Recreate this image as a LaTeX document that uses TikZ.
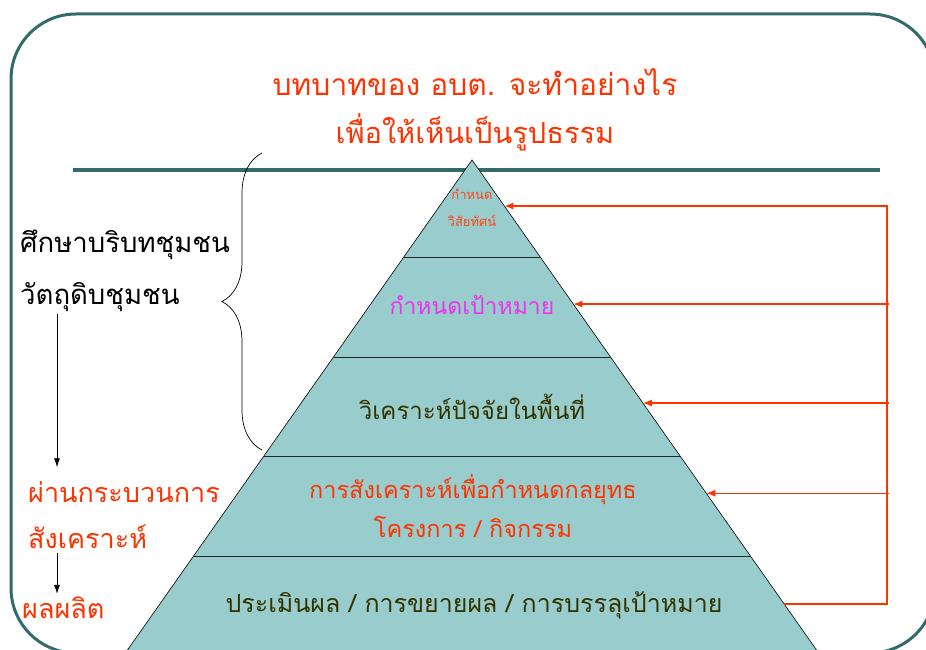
\documentclass[tikz,border=0pt]{standalone}
\usepackage{fontspec}
\newfontfamily\thai[Script=Thai]{Loma}
\usetikzlibrary{arrows.meta,decorations.pathreplacing,calc,positioning}
\definecolor{frameteal}{HTML}{336B6B}
\definecolor{titlered}{HTML}{FF3300}
\definecolor{pyrfill}{HTML}{99CCCC}
\definecolor{olivetext}{HTML}{333300}
\definecolor{goalpink}{HTML}{EE33EE}

\begin{document}
\begin{tikzpicture}[x=1pt, y=-1pt,
        every node/.style={font=\thai, inner sep=0pt},
        bigtext/.style={font=\thai\fontsize{27.5}{32}\selectfont},
        bandtext/.style={font=\thai\fontsize{23}{39}\selectfont, align=center},
        feedback/.style={titlered, line width=1.2pt},
        feedarrow/.style={feedback, -{Latex[length=9pt,width=7pt]}},
        flowarrow/.style={line width=0.8pt, -{Latex[length=9pt,width=6pt]}}]
        \useasboundingbox (0,0) rectangle (926,650);
        \clip (0,0) rectangle (926,650);
        \draw[frameteal, line width=3pt, rounded corners=65pt] (11,14) rectangle (935,653);

        % title
        \node[bigtext, titlered, font=\thai\fontsize{30}{32}\selectfont] (title1) at (475,82) {บทบาทของ อบต. จะทำอย่างไร};
        \node[bigtext, titlered, font=\thai\fontsize{29}{32}\selectfont] (title2) at (475,132) {เพื่อให้เห็นเป็นรูปธรรม};
        \draw[frameteal, line width=4pt] (73,170) -- (880,170);

        % pyramid
        \coordinate (apex) at (472,160);
        \coordinate (bl) at (127.5,650);
        \coordinate (br) at (816.5,650);
        \fill[pyrfill] (apex) -- ($(apex)!1.05!(bl)$) -- ($(apex)!1.05!(br)$) -- cycle;
        \draw[line width=0.6pt] ($(apex)!1.05!(bl)$) -- (apex) -- ($(apex)!1.05!(br)$);
        \foreach \t in {0.2, 0.403, 0.606, 0.81}
                \draw[line width=1pt, black!85] ($(apex)!\t!(bl)$) -- ($(apex)!\t!(br)$);

        \node[font=\thai\fontsize{13}{27}\selectfont, align=center, titlered!90!white] (vision) at (472,208) {กำหนด\\วิสัยทัศน์};
        \node[bandtext, goalpink] (goal) at (472,305) {กำหนดเป้าหมาย};
        \node[bandtext, olivetext, font=\thai\fontsize{24}{40}\selectfont] (factor) at (472,407) {วิเคราะห์ปัจจัยในพื้นที่};
        \node[bandtext, titlered, font=\thai\fontsize{23.5}{39}\selectfont] (strategy) at (473,506) {การสังเคราะห์เพื่อกำหนดกลยุทธ\\โครงการ / กิจกรรม};
        \node[bandtext, olivetext, font=\thai\fontsize{25}{40}\selectfont] (evaluate) at (474,605) {ประเมินผล / การขยายผล / การบรรลุเป้าหมาย};

        % left column
        \node[bigtext, anchor=west] (context) at (20,245) {ศึกษาบริบทชุมชน};
        \node[bigtext, anchor=west] (rawdata) at (20,297) {วัตถุดิบชุมชน};
        \node[bigtext, anchor=west, titlered, font=\thai\fontsize{27}{32}\selectfont] (process) at (28,492) {ผ่านกระบวนการ};
        \node[bigtext, anchor=west, titlered, font=\thai\fontsize{27}{32}\selectfont] (synth) at (28,537) {สังเคราะห์};
        \node[bigtext, anchor=west, titlered, font=\thai\fontsize{27}{32}\selectfont] (output) at (22,608) {ผลผลิต};

        \coordinate (axis) at (57,0);
        \draw[flowarrow, shorten >=14pt, shorten <=2pt] (rawdata.south -| axis) -- (process.north -| axis);
        \draw[flowarrow, shorten <=4pt, shorten >=3pt] (synth.south -| axis) -- (output.north -| axis);

        \draw[line width=0.7pt, decorate, decoration={brace, amplitude=40pt}] (262,450) -- (262,153);

        % feedback loop
        \coordinate (fb) at (887,0);
        \coordinate (e1) at ($(apex)!0.0939!(br)$);
        \coordinate (e2) at ($(apex)!0.294!(br)$);
        \coordinate (e3) at ($(apex)!0.496!(br)$);
        \coordinate (e4) at ($(apex)!0.680!(br)$);
        \coordinate (e5) at ($(apex)!0.906!(br)$);
        \draw[feedarrow] (e5) -- (e5 -| fb) -- (e1 -| fb) -- (e1);
        \foreach \e in {e2, e3, e4}
                \draw[feedarrow] ([xshift=2pt]\e -| fb) -- (\e);
\end{tikzpicture}
\end{document}
